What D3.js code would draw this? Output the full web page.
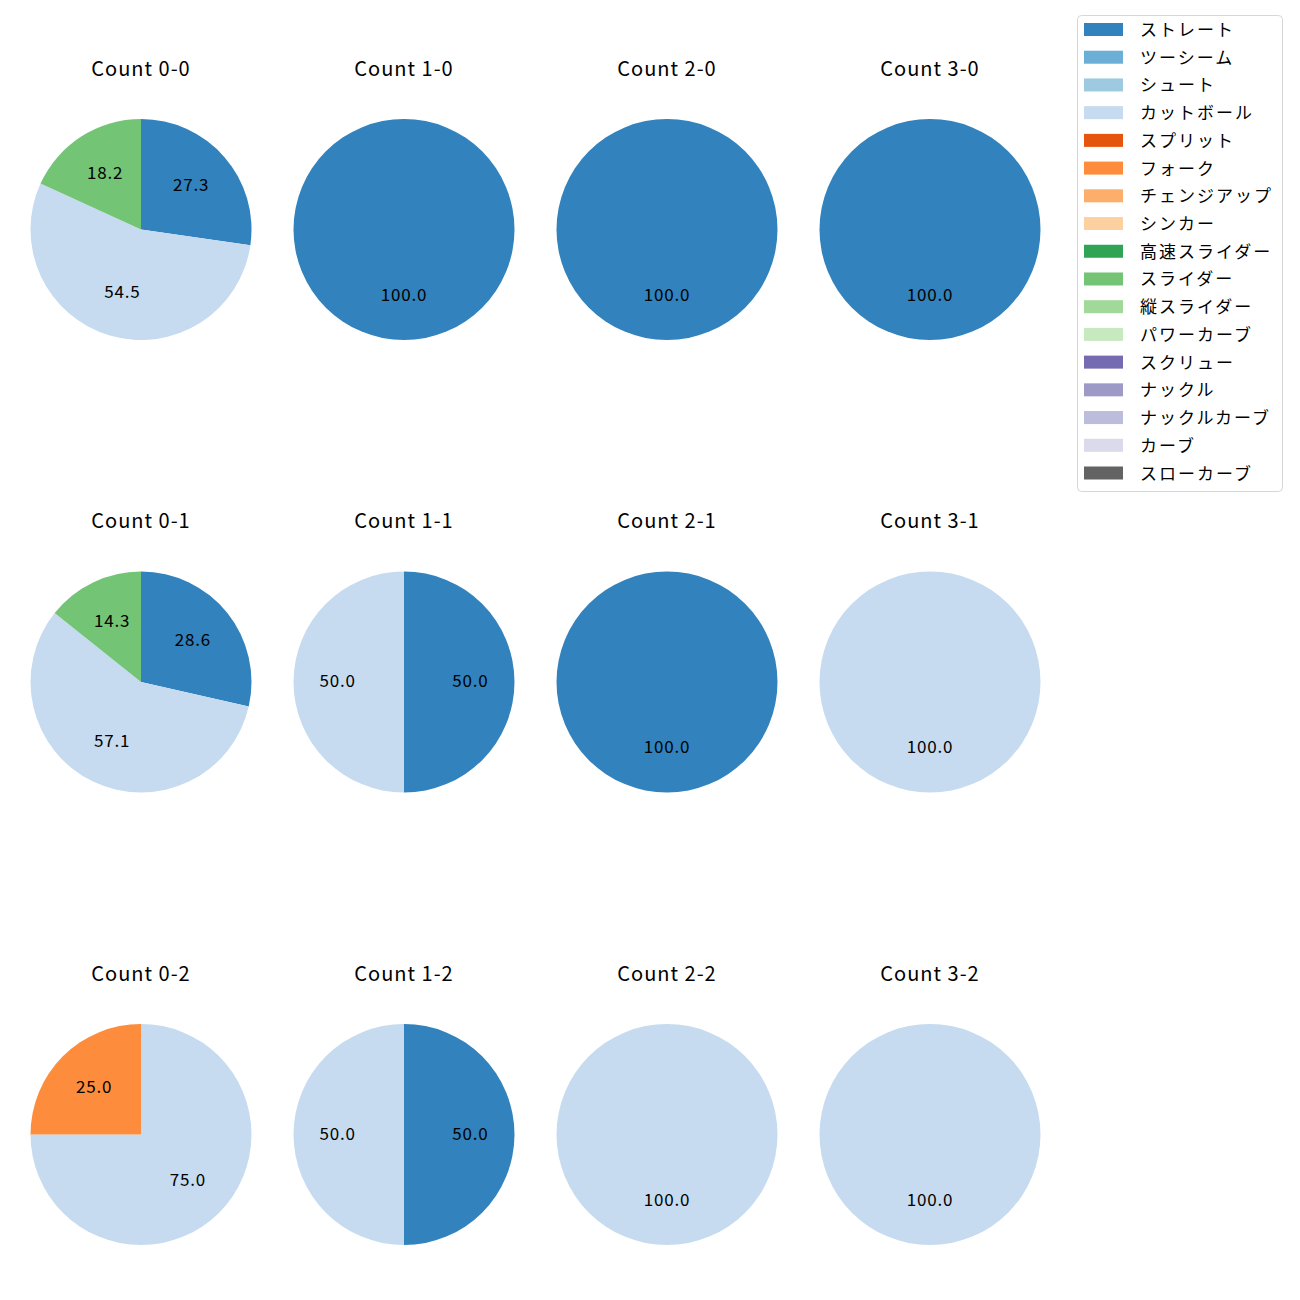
<!DOCTYPE html>
<html><head><meta charset="utf-8">
<script src="https://cdn.jsdelivr.net/npm/d3@7"></script>
<style>body{margin:0;background:#fff}text{font-family:"Noto Sans CJK JP","Noto Sans",sans-serif}</style>
</head><body><svg id="c" width="1300" height="1300"></svg>
<script>
const pitchTypes = ["ストレート","ツーシーム","シュート","カットボール","スプリット","フォーク","チェンジアップ","シンカー","高速スライダー","スライダー","縦スライダー","パワーカーブ","スクリュー","ナックル","ナックルカーブ","カーブ","スローカーブ"];
const colors = ["#3182bd","#6baed6","#9ecae1","#c6dbef","#e6550d","#fd8d3c","#fdae6b","#fdd0a2","#31a354","#74c476","#a1d99b","#c7e9c0","#756bb1","#9e9ac8","#bcbddc","#dadaeb","#636363"];
const countTitles = ["Count 0-0","Count 1-0","Count 2-0","Count 3-0","Count 0-1","Count 1-1","Count 2-1","Count 3-1","Count 0-2","Count 1-2","Count 2-2","Count 3-2"];
// pitch counts per pitch type (same order as pitchTypes)
const counts00 = [3,0,0,6,0,0,0,0,0,2,0,0,0,0,0,0,0];
const counts10 = [1,0,0,0,0,0,0,0,0,0,0,0,0,0,0,0,0];
const counts20 = [1,0,0,0,0,0,0,0,0,0,0,0,0,0,0,0,0];
const counts30 = [1,0,0,0,0,0,0,0,0,0,0,0,0,0,0,0,0];
const counts01 = [2,0,0,4,0,0,0,0,0,1,0,0,0,0,0,0,0];
const counts11 = [1,0,0,1,0,0,0,0,0,0,0,0,0,0,0,0,0];
const counts21 = [1,0,0,0,0,0,0,0,0,0,0,0,0,0,0,0,0];
const counts31 = [0,0,0,1,0,0,0,0,0,0,0,0,0,0,0,0,0];
const counts02 = [0,0,0,3,0,1,0,0,0,0,0,0,0,0,0,0,0];
const counts12 = [1,0,0,1,0,0,0,0,0,0,0,0,0,0,0,0,0];
const counts22 = [0,0,0,1,0,0,0,0,0,0,0,0,0,0,0,0,0];
const counts32 = [0,0,0,1,0,0,0,0,0,0,0,0,0,0,0,0,0];
const allCounts = [counts00,counts10,counts20,counts30,counts01,counts11,counts21,counts31,counts02,counts12,counts22,counts32];

const svg = d3.select("#c");
const color = d3.scaleOrdinal().domain(pitchTypes).range(colors);
const colX = d3.scalePoint().domain([0,1,2,3]).range([141,930]);
const rowY = d3.scalePoint().domain([0,1,2]).range([229.5,1134.5]);
const R = 110.5;
const pie = d3.pie().sort(null).value(d=>d.v);
const arc = d3.arc().innerRadius(0).outerRadius(R);
const labelArc = d3.arc().innerRadius(R*0.6).outerRadius(R*0.6);

allCounts.forEach((cnt,i)=>{
  const cx = colX(i%4), cy = rowY(Math.floor(i/4));
  const g = svg.append("g").attr("transform",`translate(${cx},${cy})`);
  const data = pitchTypes.map((p,j)=>({p, v:cnt[j]})).filter(d=>d.v>0);
  const total = d3.sum(data,d=>d.v);
  const arcs = pie(data);
  g.selectAll("path").data(arcs).join("path")
    .attr("d",arc).attr("fill",d=>color(d.data.p));
  g.selectAll("text.l").data(arcs).join("text").attr("class","l")
    .attr("transform",d=>{const c=labelArc.centroid(d);return `translate(${c[0]},${c[1]-2.5})`;})
    .attr("text-anchor","middle").attr("dominant-baseline","central")
    .attr("font-size",17).attr("letter-spacing","0.8px").attr("fill","#000")
    .text(d=>(d.data.v/total*100).toFixed(1));
  g.append("text").attr("x",0).attr("y",-R-52).attr("text-anchor","middle")
    .attr("dominant-baseline","central").attr("font-size",20).attr("letter-spacing","1px").attr("fill","#000")
    .text(countTitles[i]);
});

// legend
const lg = svg.append("g");
lg.append("rect").attr("x",1077.5).attr("y",15.5).attr("width",205).attr("height",476).attr("rx",4)
  .attr("fill","#fff").attr("stroke","#d6d6d6");
const ly = d3.scalePoint().domain(pitchTypes).range([29.5,473]);
pitchTypes.forEach(p=>{
  lg.append("rect").attr("x",1084).attr("y",ly(p)-6.5).attr("width",39).attr("height",13).attr("fill",color(p));
  lg.append("text").attr("x",1140).attr("y",ly(p)-1).attr("dominant-baseline","central")
    .attr("font-size",17).attr("letter-spacing","2px").attr("fill","#000").text(p);
});
</script></body></html>
